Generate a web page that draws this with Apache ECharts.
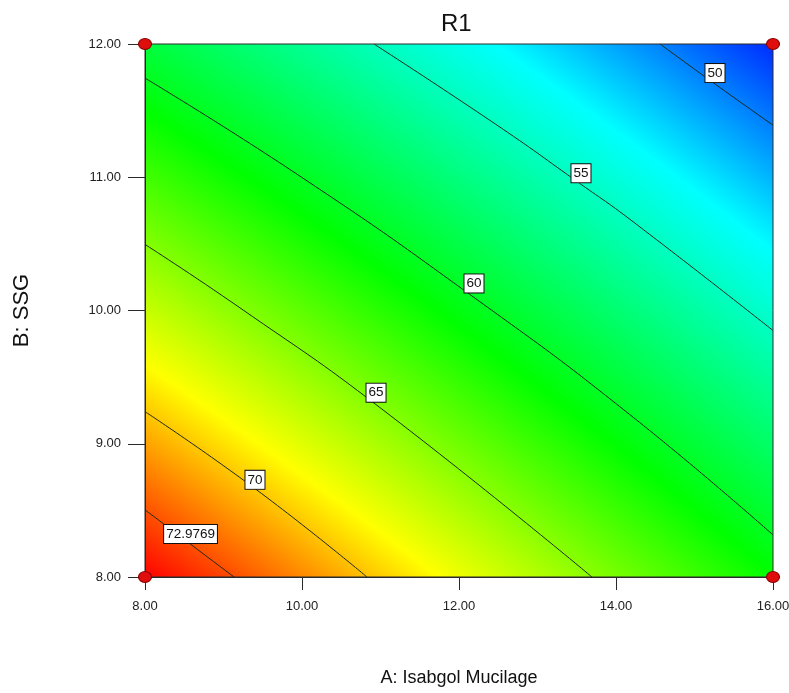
<!DOCTYPE html>
<html>
<head>
<meta charset="utf-8">
<script src="https://cdn.jsdelivr.net/npm/echarts@6/dist/echarts.min.js"></script>
<style>html,body{margin:0;padding:0;background:#fff;overflow:hidden}#c{width:789px;height:693px}</style>
</head>
<body>
<div id="c"></div>
<script>
// ---- data ----
const titleText = 'R1';
const xName = 'A: Isabgol Mucilage';
const yName = 'B: SSG';
const designPoints = [[8, 8], [8, 12], [16, 8], [16, 12]];
const contour72 = [[8, 8.504], [9.134, 8]];
const contour70 = [[8, 9.241], [9.42, 8.655], [10.828, 8]];
const contour65 = [[8, 10.496], [9.21, 10.02], [10.994, 9.271], [13.694, 8]];
const contour60 = [[8, 11.744], [9.975, 11.008], [12.191, 10.098], [14.178, 9.218], [16, 8.316]];
const contour55 = [[10.917, 12], [12.522, 11.376], [13.554, 10.947], [14.178, 10.684], [16, 9.85]];
const contour50 = [[14.561, 12], [15.261, 11.70], [16, 11.391]];
const labelPos = [[8.580, 8.323], [9.401, 8.729], [10.943, 9.383], [12.191, 10.203], [13.554, 11.03], [15.261, 11.782]];
const labelText = ['72.9769', '70', '65', '60', '55', '50'];

// ---- styling ----
const FONT = "'Liberation Sans', Arial, sans-serif";
// radius (px, from gradient centre) at which each response level sits
const levelRadius = [[75, 5492], [72.98, 5545.5], [70, 5625.6], [65, 5764], [60, 5908], [55, 6064], [50, 6227], [48, 6293]];
const GC = {x: -3028, y: 5060, r: 6400};
// response value -> rainbow colour stops (style)
const rainbow = [[47, [0, 0, 255]], [53, [0, 255, 255]], [61, [0, 255, 0]], [68.5, [255, 255, 0]], [75, [255, 0, 0]]];
function colorAt(v) {
  for (let i = 1; i < rainbow.length; i++) {
    if (v <= rainbow[i][0] || i === rainbow.length - 1) {
      const a = rainbow[i - 1], b = rainbow[i];
      const f = Math.max(0, Math.min(1, (v - a[0]) / (b[0] - a[0])));
      const c = a[1].map((x, k) => Math.round(x + (b[1][k] - x) * f));
      return 'rgb(' + c.join(',') + ')';
    }
  }
}
function radiusAt(v) {
  for (let i = 1; i < levelRadius.length; i++) {
    const a = levelRadius[i - 1], b = levelRadius[i];
    if (v <= a[0] && v >= b[0]) return a[1] + (b[1] - a[1]) * (a[0] - v) / (a[0] - b[0]);
  }
  return v > 75 ? levelRadius[0][1] : levelRadius[levelRadius.length - 1][1];
}
const stopVals = [75, 72.98, 70, 68.5, 65, 61, 60, 55, 53, 50, 48];
const colorStops = [{offset: 0, color: colorAt(75)}];
stopVals.forEach(v => colorStops.push({offset: radiusAt(v) / GC.r, color: colorAt(v)}));
colorStops.push({offset: 1, color: colorAt(48)});

const lineSeries = (d) => ({
  type: 'line', data: d, smooth: 0.5, showSymbol: false, symbol: 'none',
  lineStyle: {color: '#1c2a1c', width: 1}, z: 3, silent: true
});

const chart = echarts.init(document.getElementById('c'), null, {renderer: 'canvas'});
chart.setOption({
  animation: false,
  backgroundColor: '#fff',
  title: {
    text: titleText, left: 441, top: 12, padding: 0,
    textStyle: {fontFamily: FONT, fontSize: 24, fontWeight: 'normal', color: '#111'}
  },
  grid: {
    left: 145, top: 44, width: 628, height: 533, show: true,
    outerBoundsMode: 'none', containLabel: false,
    backgroundColor: {type: 'radial', x: GC.x, y: GC.y, r: GC.r, global: true, colorStops: colorStops},
    borderColor: '#2a2a2a', borderWidth: 1
  },
  xAxis: {
    type: 'value', min: 8, max: 16, interval: 2,
    name: xName, nameLocation: 'middle', nameGap: 92,
    nameTextStyle: {fontFamily: FONT, fontSize: 18, color: '#111'},
    axisLine: {lineStyle: {color: '#2a2a2a', width: 1}},
    axisTick: {length: 13, lineStyle: {color: '#2a2a2a'}},
    axisLabel: {margin: 23, fontFamily: FONT, fontSize: 13, color: '#222', formatter: v => v.toFixed(2)},
    splitLine: {show: false}
  },
  yAxis: {
    type: 'value', min: 8, max: 12, interval: 1,
    name: yName, nameLocation: 'middle', nameGap: 112, nameRotate: 90,
    nameTextStyle: {fontFamily: FONT, fontSize: 22, color: '#111'},
    axisLine: {lineStyle: {color: '#2a2a2a', width: 1}},
    axisTick: {length: 17, lineStyle: {color: '#2a2a2a'}},
    axisLabel: {margin: 24, fontFamily: FONT, fontSize: 13, color: '#222', formatter: v => v.toFixed(2)},
    splitLine: {show: false}
  },
  series: [
    lineSeries(contour72), lineSeries(contour70), lineSeries(contour65),
    lineSeries(contour60), lineSeries(contour55), lineSeries(contour50),
    {
      type: 'scatter', z: 4, silent: true, symbolSize: 0,
      itemStyle: {opacity: 1},
      data: labelPos.map((p, i) => ({value: p, name: labelText[i]})),
      label: {
        show: true, position: 'inside', formatter: p => p.name, opacity: 1,
        fontFamily: FONT, fontSize: 13.5, lineHeight: 16, color: '#111',
        backgroundColor: '#ffffff', borderColor: '#111', borderWidth: 1, padding: [1, 2, 1, 2]
      },
      emphasis: {disabled: true}
    },
    {
      type: 'scatter', z: 5, silent: true, clip: false,
      data: designPoints, symbol: 'circle', symbolSize: [13, 11],
      itemStyle: {color: '#e00d0d', borderColor: '#8a0000', borderWidth: 1, opacity: 1},
      emphasis: {disabled: true}
    }
  ]
});
</script>
</body>
</html>
